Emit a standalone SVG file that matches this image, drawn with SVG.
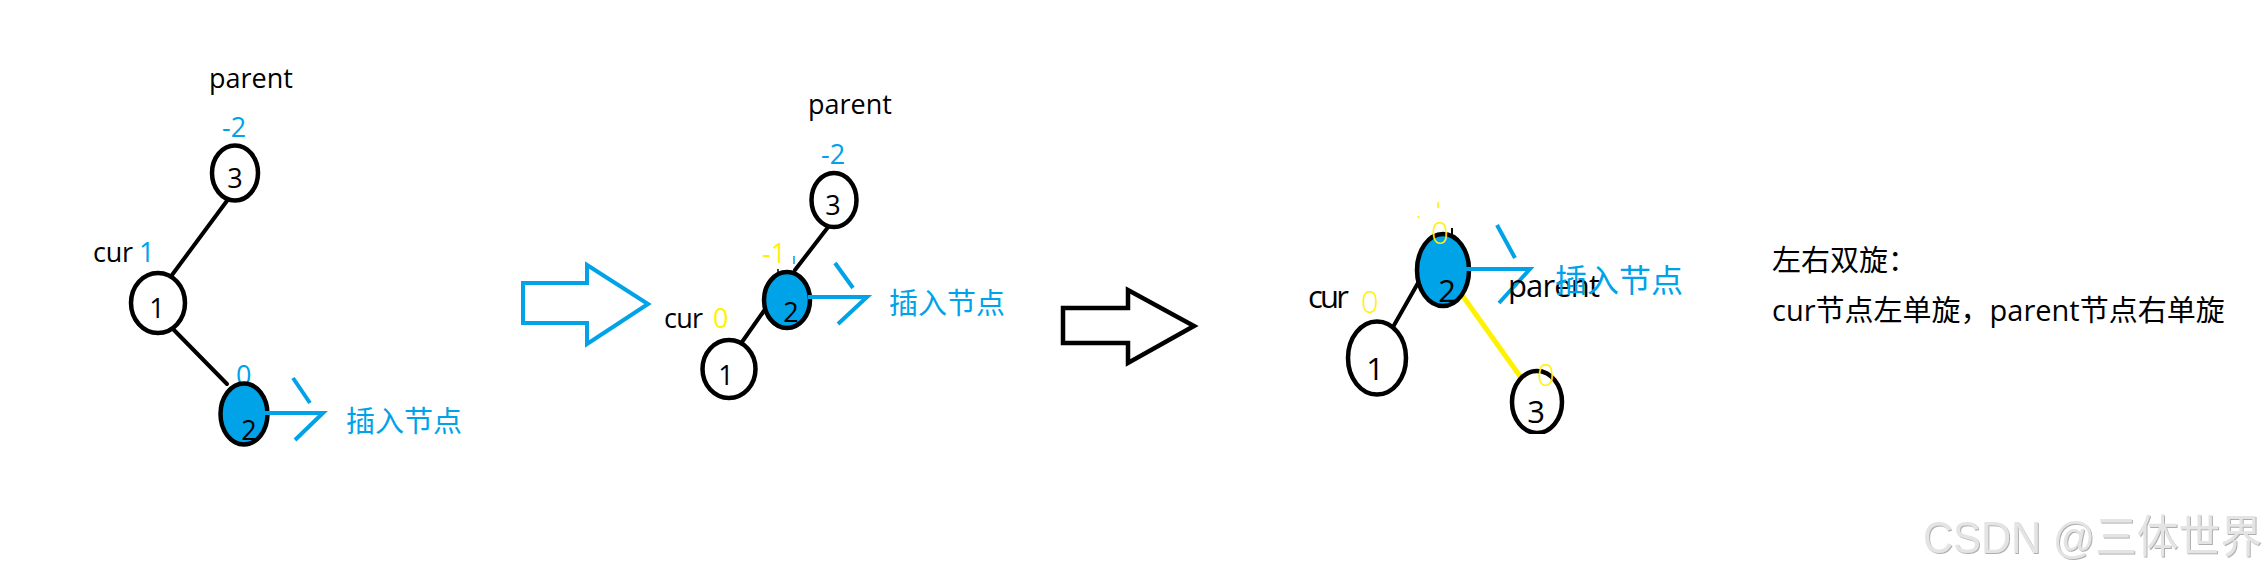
<svg xmlns="http://www.w3.org/2000/svg" width="2268" height="570" viewBox="0 0 2268 570">
<style>
.lat{font-family:"Open Sans","Noto Sans",sans-serif;font-size:27px}
.lat3{font-family:"Open Sans","Noto Sans",sans-serif;font-size:31px}
.cjk{font-family:"Noto Sans CJK SC",sans-serif}
.blk{fill:#000}
.blu{fill:#00A2E8}
.yel{fill:#FFF200}
.nd{fill:#fff;stroke:#000;stroke-width:4.5}
.ndf{fill:#00A2E8;stroke:#000;stroke-width:4.5}
.edge{stroke:#000;stroke-width:4;fill:none;stroke-linecap:round}
.yedge{stroke:#FFF200;stroke-width:5;fill:none}
.bmark{stroke:#00A2E8;stroke-width:4;fill:none}
.num{text-anchor:middle}
</style>
<defs>
<clipPath id="clip3"><rect x="0" y="0" width="2268" height="434"/></clipPath>
<filter id="emb" x="-5%" y="-20%" width="110%" height="140%">
<feDropShadow dx="1" dy="1" stdDeviation="0.6" flood-color="#9a9a9a" flood-opacity="0.8"/>
</filter>
</defs>
<rect width="2268" height="570" fill="#fff"/>

<!-- connectors -->
<g id="connectors">
<line class="edge" x1="235" y1="190" x2="172" y2="275"/>
<line class="edge" x1="172" y1="328" x2="227" y2="384"/>
<line class="edge" x1="832" y1="222" x2="795" y2="270"/>
<line class="edge" x1="766" y1="308" x2="742" y2="342"/>
<line class="edge" x1="1418" y1="283" x2="1393" y2="327"/>
<line class="yedge" x1="1462" y1="295" x2="1522" y2="379"/>
<polygon points="523,283 587,283 587,265 648,304 587,344 587,323 523,323" fill="none" stroke="#00A2E8" stroke-width="4"/>
<polygon points="1063,308 1128,308 1128,290 1194,326 1128,363 1128,343 1063,343" fill="none" stroke="#000" stroke-width="4.5"/>
</g>

<!-- diagram 1 -->
<text class="lat blk" x="209" y="88">parent</text>
<g id="d1-n3">
<text class="lat blu" x="222" y="137">-2</text>
<ellipse class="nd" cx="235" cy="173" rx="23" ry="27.5"/>
<text class="lat blk num" x="235" y="188">3</text>
</g>
<g id="d1-n1">
<text class="lat blk" x="93" y="262" textLength="40">cur</text>
<text class="lat blu" x="139" y="262">1</text>
<ellipse class="nd" cx="158" cy="303" rx="27" ry="30"/>
<text class="lat blk num" x="157" y="318">1</text>
</g>
<g id="d1-n2">
<text class="lat blu" x="236" y="385">0</text>
<ellipse class="ndf" cx="244" cy="414" rx="23.5" ry="30.5"/>
<text class="lat blk num" x="249" y="440">2</text>
<path class="bmark" d="M265,413 H323 L295,440 M293,378 L310,403"/>
<text class="cjk blu" x="346" y="432" font-size="29">插入节点</text>
</g>

<!-- diagram 2 -->
<text class="lat blk" x="808" y="114">parent</text>
<g id="d2-n3">
<text class="lat blu" x="821" y="164">-2</text>
<ellipse class="nd" cx="834" cy="200" rx="22.5" ry="27"/>
<text class="lat blk num" x="833" y="215">3</text>
</g>
<g id="d2-n2">
<text class="lat yel" x="762" y="263">-1</text>
<line x1="794" y1="256" x2="794" y2="264" stroke="#00A2E8" stroke-width="1.5"/>
<line x1="778" y1="269" x2="778" y2="273" stroke="#000" stroke-width="1.5"/>
<ellipse class="ndf" cx="787" cy="300" rx="23" ry="28"/>
<text class="lat blk num" x="791" y="322">2</text>
<path class="bmark" d="M808,297 H867 L838,324 M835,263 L853,288"/>
<text class="cjk blu" x="889" y="314" font-size="29">插入节点</text>
</g>
<g id="d2-n1">
<text class="lat blk" x="664" y="328" textLength="39">cur</text>
<text class="lat yel" x="713" y="328">0</text>
<ellipse class="nd" cx="729" cy="369" rx="26.5" ry="29"/>
<text class="lat blk num" x="726" y="385">1</text>
</g>

<!-- diagram 3 -->
<g id="d3-n2">
<line x1="1438" y1="202" x2="1438" y2="208" stroke="#FFF200" stroke-width="1.5"/>
<line x1="1418" y1="216" x2="1419" y2="218" stroke="#FFF200" stroke-width="1.5"/>
<line x1="1452" y1="228" x2="1452" y2="237" stroke="#000" stroke-width="2"/>
<ellipse class="ndf" cx="1443" cy="270" rx="26" ry="36"/>
<text class="lat3 yel" x="1431" y="244" style="font-weight:300">0</text>
<text class="lat3 blk num" x="1447" y="302">2</text>
<path class="bmark" d="M1465,269 H1530 L1499,303 M1497,225 L1515,258" stroke-width="4.5"/>
<text class="lat3 blk" x="1508" y="297" textLength="92">parent</text>
<text class="cjk blu" x="1555" y="292" font-size="32">插入节点</text>
</g>
<g id="d3-n1">
<text class="lat3 blk" x="1308" y="308" textLength="41">cur</text>
<text class="lat3 yel" x="1361" y="313" style="font-weight:300">0</text>
<ellipse class="nd" cx="1377" cy="358" rx="29" ry="36.5"/>
<text class="lat3 blk num" x="1375" y="380">1</text>
</g>
<g id="d3-n3" clip-path="url(#clip3)">
<ellipse class="nd" cx="1537" cy="402" rx="25" ry="31"/>
<text class="lat3 yel" x="1537" y="386" style="font-weight:300">0</text>
<text class="lat3 blk num" x="1536" y="423">3</text>
</g>

<!-- note -->
<g id="note">
<text class="cjk blk" x="1772" y="271" font-size="29">左右双旋：</text>
<text class="cjk blk" x="1772" y="321" font-size="29"><tspan style="font-family:'Open Sans','Noto Sans CJK SC',sans-serif">cur</tspan>节点左单旋，<tspan style="font-family:'Open Sans','Noto Sans CJK SC',sans-serif">parent</tspan>节点右单旋</text>
</g>

<text x="1923" y="553" font-family="'Liberation Sans','Noto Sans CJK SC',sans-serif" font-size="45" fill="#e4e4e4" filter="url(#emb)" textLength="339" lengthAdjust="spacingAndGlyphs">CSDN @三体世界</text>
</svg>
